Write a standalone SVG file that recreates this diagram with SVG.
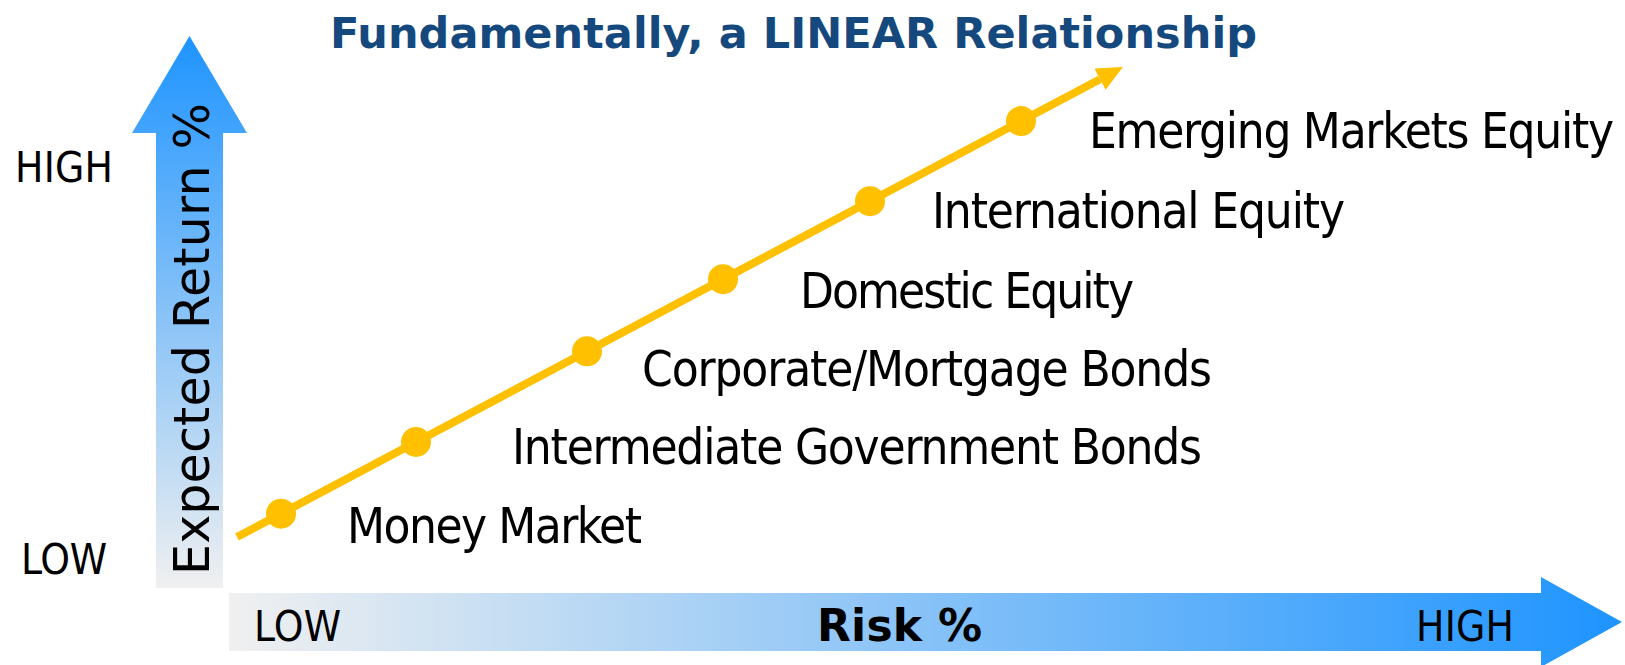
<svg xmlns="http://www.w3.org/2000/svg" width="1625" height="665" viewBox="0 0 1625 665">
  <style>
    .title { font-family: "DejaVu Sans", "Liberation Sans", sans-serif; font-weight: bold; font-size: 43px; fill: #15497E; }
    .lbl { font-family: "DejaVu Sans Condensed", "DejaVu Sans", sans-serif; font-stretch: condensed; font-size: 49px; fill: #000; }
    .axis { font-family: "DejaVu Sans Condensed", "DejaVu Sans", sans-serif; font-stretch: condensed; font-size: 42px; fill: #000; }
    .axisb { font-family: "DejaVu Sans", sans-serif; font-weight: bold; font-size: 44px; fill: #000; }
    .vert { font-family: "DejaVu Sans", sans-serif; font-size: 49px; fill: #000; }
    .trend { fill: none; stroke: #FFC000; stroke-width: 8; }
    .dot { fill: #FFC000; }
  </style>
  <defs>
    <linearGradient id="gv" gradientUnits="userSpaceOnUse" x1="0" y1="36" x2="0" y2="588">
      <stop offset="0" stop-color="#1E94FF"/>
      <stop offset="1" stop-color="#F0F0F0"/>
    </linearGradient>
    <linearGradient id="gh" gradientUnits="userSpaceOnUse" x1="229" y1="0" x2="1622" y2="0">
      <stop offset="0" stop-color="#F0F0F0"/>
      <stop offset="1" stop-color="#1E94FF"/>
    </linearGradient>
    <marker id="ah" markerUnits="userSpaceOnUse" viewBox="0 0 26 24" markerWidth="26" markerHeight="24" refX="0" refY="12" orient="auto">
      <path d="M0,0 L26,12 L0,24 Z" fill="#FFC000"/>
    </marker>
  </defs>

  <text class="title" x="330" y="48" textLength="927">Fundamentally, a LINEAR Relationship</text>

  <g id="y-axis">
    <polygon points="156,588 156,133 132,133 189.5,36 247,133 223,133 223,588" fill="url(#gv)"/>
    <text class="vert" transform="translate(209,575) rotate(-90)" x="0" y="0" textLength="472">Expected Return %</text>
    <text class="axis" x="15" y="182" textLength="98">HIGH</text>
    <text class="axis" x="21" y="574" textLength="86">LOW</text>
  </g>

  <g id="x-axis">
    <polygon points="229,593 1541,593 1541,577 1622,622 1541,667 1541,651 229,651" fill="url(#gh)"/>
    <text class="axis" x="254" y="641" textLength="87">LOW</text>
    <text class="axisb" x="817" y="641" textLength="165">Risk %</text>
    <text class="axis" x="1416" y="641" textLength="98">HIGH</text>
  </g>

  <g id="connectors">
    <line class="trend" x1="237" y1="537" x2="1100" y2="79.2" marker-end="url(#ah)"/>
  </g>

  <g id="money-market">
    <circle class="dot" cx="281" cy="513.7" r="15"/>
    <text class="lbl" x="347" y="543" textLength="295">Money Market</text>
  </g>
  <g id="intermediate-government-bonds">
    <circle class="dot" cx="416" cy="442" r="15"/>
    <text class="lbl" x="512" y="464" textLength="690">Intermediate Government Bonds</text>
  </g>
  <g id="corporate-mortgage-bonds">
    <circle class="dot" cx="587" cy="351.3" r="15"/>
    <text class="lbl" x="642" y="386" textLength="570">Corporate/Mortgage Bonds</text>
  </g>
  <g id="domestic-equity">
    <circle class="dot" cx="723" cy="279.2" r="15"/>
    <text class="lbl" x="800" y="308" textLength="334">Domestic Equity</text>
  </g>
  <g id="international-equity">
    <circle class="dot" cx="870" cy="201.2" r="15"/>
    <text class="lbl" x="932" y="228" textLength="413">International Equity</text>
  </g>
  <g id="emerging-markets-equity">
    <circle class="dot" cx="1021" cy="121.1" r="15"/>
    <text class="lbl" x="1089" y="148" textLength="525">Emerging Markets Equity</text>
  </g>
</svg>
